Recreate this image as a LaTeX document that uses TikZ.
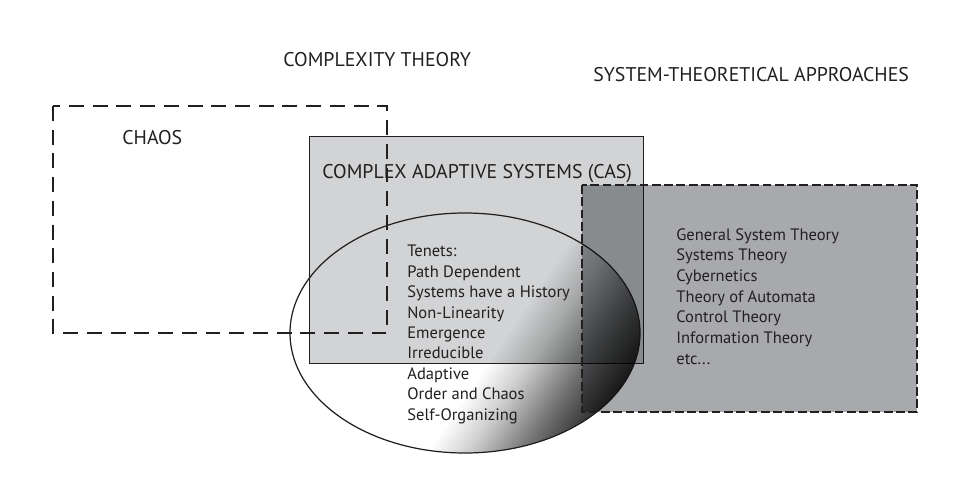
\documentclass[tikz,border=0pt]{standalone}
\usepackage{fontspec}
\setmainfont{PT Sans}
\usetikzlibrary{positioning}
\definecolor{vennInk}{HTML}{231F20}
\definecolor{vennCas}{HTML}{D1D3D4}
\definecolor{vennSat}{HTML}{A7A9AC}
% gradient across the tenets ellipse (centre of the ellipse at 120bp)
\pgfdeclarehorizontalshading{vennTenet}{300bp}{color(0bp)=(white); color(140bp)=(white); color(160bp)=(black!20); color(185bp)=(black!55); color(210bp)=(black!85); color(222bp)=(black); color(240bp)=(black)}
\tikzset{
  vennhead/.style={font=\fontsize{11.3}{14}\selectfont,text=vennInk,inner sep=0pt,anchor=base west},
  vennlist/.style={font=\fontsize{9.4}{11.6}\selectfont,text=vennInk,inner sep=0pt,anchor=base west,align=left},
  vennbox/.style={draw=vennInk,line width=0.55pt},
  vennchaos/.style={draw=vennInk,line width=0.85pt,dash pattern=on 8.5pt off 5pt},
  vennsat/.style={draw=vennInk,line width=0.7pt,dash pattern=on 5pt off 2pt},
  vennmix/.style={blend mode=multiply},
}

\begin{document}
\begin{tikzpicture}[x=0.02cm,y=-0.02cm]
  \useasboundingbox (0,0) rectangle (980,500);
  % complex adaptive systems box
  \filldraw[vennbox,fill=vennCas] (309,136) rectangle (643,363);
  % tenets ellipse
  \begin{scope}[vennmix]
    \clip (465,333) ellipse [x radius=175,y radius=120];
    \node[transform shape,rotate=-34,inner sep=0pt] (tenetshade) at (465,333) {\pgfuseshading{vennTenet}};
  \end{scope}
  \draw[vennbox,line width=0.7pt] (465,333) ellipse [x radius=175,y radius=120];
  % system-theoretical box
  \fill[vennmix,vennSat] (582,185) rectangle (917,412);
  \draw[vennsat] (582,185) rectangle (917,412);
  % chaos box
  \draw[vennchaos] (53,106) rectangle (387,333);

  \node[vennhead] (complexity) at (283,67) {COMPLEXITY THEORY};
  \node[vennhead] (systheo) at (593,82) {SYSTEM-THEORETICAL APPROACHES};
  \node[vennhead] (chaos) at (122,144) {CHAOS};
  \node[vennhead] (cas) at (322,178) {COMPLEX ADAPTIVE SYSTEMS (CAS)};
  \node[vennlist] (tenets) at (407,420) {Tenets:\\Path Dependent\\Systems have a History\\Non-Linearity\\Emergence\\Irreducible\\Adaptive\\Order and Chaos\\Self-Organizing};
  \node[vennlist,font=\fontsize{9.4}{11.73}\selectfont] (approaches) at (676,364) {General System Theory\\Systems Theory\\Cybernetics\\Theory of Automata\\Control Theory\\Information Theory\\etc...};
\end{tikzpicture}
\end{document}
